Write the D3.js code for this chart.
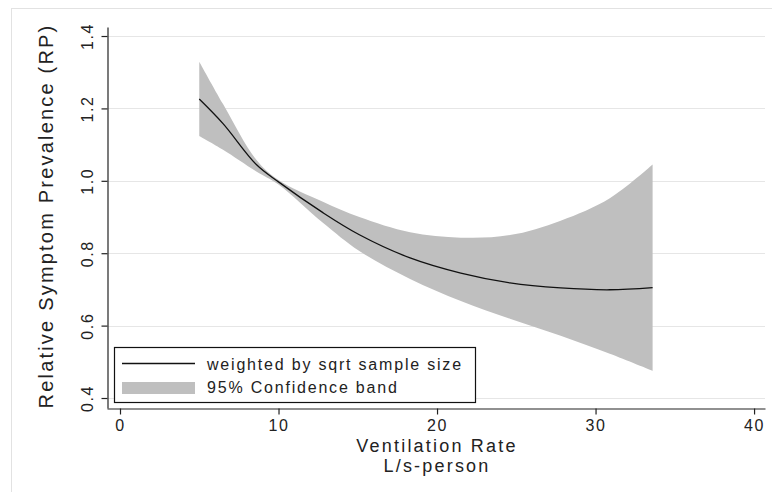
<!DOCTYPE html>
<html>
<head>
<meta charset="utf-8">
<script src="https://cdn.jsdelivr.net/npm/d3@7"></script>
<style>
  body { margin: 0; background: #fff; }
  text { font-family: "Liberation Sans", Arial, sans-serif; fill: #222; }
</style>
</head>
<body>
<div id="chart"></div>
<script>
// ventilation rate (L/s-person) where values were read
const ventRate = [5, 6.5, 8.6, 10, 12.8, 15.1, 18.3, 21.5, 24.6, 27.8, 30.9, 33.6];
// fitted relative symptom prevalence
const fitted = [1.226, 1.158, 1.045, 0.997, 0.912, 0.851, 0.787, 0.745, 0.718, 0.704, 0.699, 0.705];
// 95% confidence band
const upperCI = [1.329, 1.212, 1.058, 1.002, 0.942, 0.9, 0.858, 0.843, 0.85, 0.89, 0.952, 1.045];
const lowerCI = [1.124, 1.086, 1.026, 0.99, 0.884, 0.806, 0.729, 0.668, 0.619, 0.572, 0.522, 0.475];

const xTicks = [0, 10, 20, 30, 40];
const yTicks = [0.4, 0.6, 0.8, 1.0, 1.2, 1.4];
const legendLabels = ["weighted by sqrt sample size", "95% Confidence band"];

const width = 772, height = 492;

const svg = d3.select("#chart")
  .append("svg")
  .attr("width", width)
  .attr("height", height);

// outer graph region outline (only top/left show)
svg.append("rect")
  .attr("x", 11.5).attr("y", 8.5)
  .attr("width", 800).attr("height", 600)
  .attr("fill", "#fff")
  .attr("stroke", "#e2e2e2");

const x = d3.scaleLinear().domain([-0.82, 40.69]).range([107, 765]);
const y = d3.scaleLinear().domain([0.3724, 1.4249]).range([408, 27]);

// gridlines
svg.append("g")
  .selectAll("line")
  .data(yTicks)
  .enter()
  .append("line")
  .attr("x1", 108)
  .attr("x2", 765)
  .attr("y1", (d) => Math.round(y(d)) + 0.5)
  .attr("y2", (d) => Math.round(y(d)) + 0.5)
  .attr("stroke", "#e6e6e6")
  .attr("stroke-width", 1.2);

const rows = ventRate.map((v, i) => ({
  v: v,
  fit: fitted[i],
  hi: upperCI[i],
  lo: lowerCI[i],
}));

// confidence band
const area = d3.area()
  .x((d) => x(d.v))
  .y0((d) => y(d.lo))
  .y1((d) => y(d.hi))
  .curve(d3.curveCatmullRom.alpha(0.5));

svg.append("path")
  .datum(rows)
  .attr("d", area)
  .attr("fill", "#bfbfbf");

// fitted line
const line = d3.line()
  .x((d) => x(d.v))
  .y((d) => y(d.fit))
  .curve(d3.curveCatmullRom.alpha(0.5));

svg.append("path")
  .datum(rows)
  .attr("d", line)
  .attr("fill", "none")
  .attr("stroke", "#111")
  .attr("stroke-width", 1.3);

// axes
const xAxis = svg.append("g")
  .attr("transform", "translate(0,408.5)")
  .call(d3.axisBottom(x).tickValues(xTicks).tickSize(6).tickSizeOuter(0).tickFormat(d3.format("d")));

const yAxis = svg.append("g")
  .attr("transform", "translate(107.5,0)")
  .call(d3.axisLeft(y).tickValues(yTicks).tickSize(6).tickSizeOuter(0).tickFormat(d3.format(".1f")));

[xAxis, yAxis].forEach((g) => {
  g.select(".domain").attr("stroke", "#222").attr("stroke-width", 1.2);
  g.selectAll(".tick line").attr("stroke", "#222").attr("stroke-width", 1.2);
  g.selectAll("text")
    .attr("font-family", '"Liberation Sans", Arial, sans-serif')
    .attr("font-size", 16)
    .attr("letter-spacing", 1.6)
    .attr("fill", "#222");
});

xAxis.selectAll("text").attr("y", 11).attr("dy", "0.71em");

yAxis.selectAll("text")
  .attr("x", null)
  .attr("dy", null)
  .attr("text-anchor", "middle")
  .attr("transform", "translate(-15,0) rotate(-90)");

// axis titles
svg.append("text")
  .attr("x", 437)
  .attr("y", 452)
  .attr("text-anchor", "middle")
  .attr("font-size", 18)
  .attr("letter-spacing", 2.2)
  .text("Ventilation Rate");

svg.append("text")
  .attr("x", 437)
  .attr("y", 472)
  .attr("text-anchor", "middle")
  .attr("font-size", 18)
  .attr("letter-spacing", 2.2)
  .text("L/s-person");

svg.append("text")
  .attr("transform", "translate(53,216) rotate(-90)")
  .attr("text-anchor", "middle")
  .attr("font-size", 20)
  .attr("letter-spacing", 2.2)
  .text("Relative Symptom Prevalence (RP)");

// legend
const legend = svg.append("g");

legend.append("rect")
  .attr("x", 114.5).attr("y", 347.5)
  .attr("width", 361).attr("height", 55)
  .attr("fill", "#fff")
  .attr("stroke", "#111")
  .attr("stroke-width", 1.2);

legend.append("line")
  .attr("x1", 122).attr("x2", 195)
  .attr("y1", 363.5).attr("y2", 363.5)
  .attr("stroke", "#111")
  .attr("stroke-width", 1.4);

legend.append("rect")
  .attr("x", 122).attr("y", 382)
  .attr("width", 73).attr("height", 12)
  .attr("fill", "#bfbfbf");

legend.selectAll("text.leg")
  .data(legendLabels)
  .enter()
  .append("text")
  .attr("class", "leg")
  .attr("x", 207)
  .attr("y", (d, i) => 370 + i * 23)
  .attr("font-size", 16)
  .attr("letter-spacing", 1.8)
  .text((d) => d);
</script>
</body>
</html>
